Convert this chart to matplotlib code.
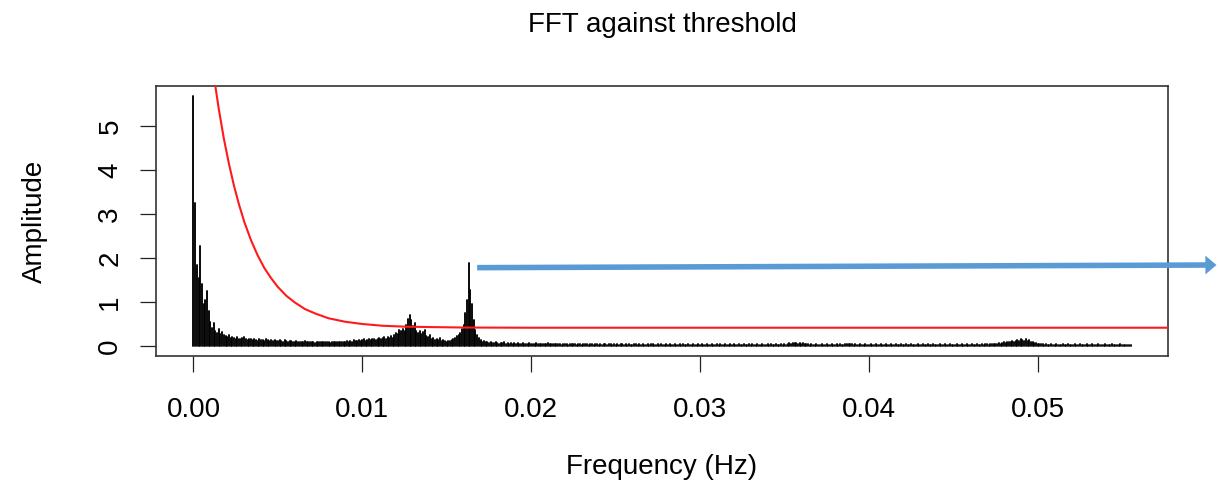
import numpy as np
import matplotlib
matplotlib.use("Agg")
import matplotlib.pyplot as plt

plt.rcParams['font.family'] = ['Liberation Sans', 'DejaVu Sans']

# ---- spectrum data -------------------------------------------------------
# FFT bin spacing (Hz); bin k sits at k * FREQ_STEP
FREQ_STEP = 0.0001

# low-frequency peaks, bins 0-19
amp_low = [5.68, 3.26, 1.85, 1.55, 2.27, 1.40, 0.95, 1.05, 1.25, 0.80,
           0.55, 0.42, 0.52, 0.35, 0.30, 0.38, 0.28, 0.32, 0.25, 0.22]

# decaying shoulder, bins 20-59
amp_shoulder = [0.20, 0.24, 0.18, 0.21, 0.19, 0.16, 0.20, 0.17, 0.15, 0.18,
                0.21, 0.16, 0.14, 0.17, 0.15, 0.13, 0.16, 0.14, 0.12, 0.15,
                0.13, 0.14, 0.12, 0.16, 0.13, 0.11, 0.14, 0.12, 0.13, 0.11,
                0.12, 0.14, 0.11, 0.10, 0.13, 0.12, 0.10, 0.11, 0.12, 0.10]

# noise floor rising towards the first band, bins 60-115
amp_floor = [0.09, 0.11, 0.10, 0.08, 0.10, 0.09, 0.11, 0.08, 0.09, 0.10,
             0.08, 0.09, 0.07, 0.09, 0.10, 0.08, 0.09, 0.08, 0.10, 0.09,
             0.08, 0.07, 0.09, 0.08, 0.10, 0.09, 0.08, 0.09, 0.10, 0.08,
             0.09, 0.11, 0.10, 0.12, 0.10, 0.13, 0.11, 0.12, 0.14, 0.12,
             0.13, 0.15, 0.12, 0.14, 0.16, 0.13, 0.15, 0.17, 0.14, 0.16,
             0.19, 0.15, 0.18, 0.21, 0.17, 0.20]

# first band around 0.013 Hz, bins 116-155
amp_band1 = [0.18, 0.22, 0.19, 0.26, 0.30, 0.28, 0.36, 0.33, 0.38, 0.35,
             0.48, 0.62, 0.70, 0.60, 0.45, 0.52, 0.33, 0.30, 0.33, 0.28,
             0.32, 0.36, 0.23, 0.20, 0.24, 0.17, 0.18, 0.14, 0.16, 0.13,
             0.18, 0.12, 0.14, 0.11, 0.10, 0.12, 0.11, 0.14, 0.16, 0.19]

# dominant peak around 0.0163 Hz, bins 156-175
amp_band2 = [0.22, 0.25, 0.30, 0.38, 0.48, 0.75, 1.05, 1.88, 1.27, 0.95,
             0.59, 0.36, 0.25, 0.18, 0.14, 0.10, 0.11, 0.08, 0.09, 0.07]

# high-frequency tail, bins 176-555
amp_tail = [
    0.08, 0.06, 0.07, 0.09, 0.06, 0.05, 0.07, 0.06, 0.08, 0.05, 0.06, 0.05, 0.07, 0.05, 0.06, 0.04, 0.06, 0.05, 0.04, 0.06,
    0.05, 0.04, 0.05, 0.06, 0.04, 0.05, 0.04, 0.06, 0.05, 0.04, 0.05, 0.04, 0.04, 0.05, 0.06, 0.04, 0.05, 0.04, 0.05, 0.04,
    0.04, 0.05, 0.03, 0.04, 0.05, 0.04, 0.03, 0.04, 0.05, 0.04, 0.04, 0.03, 0.05, 0.04, 0.03, 0.04, 0.04, 0.05, 0.03, 0.04,
    0.04, 0.03, 0.04, 0.05, 0.03, 0.04, 0.03, 0.04, 0.04, 0.03, 0.05, 0.04, 0.03, 0.04, 0.03, 0.04, 0.03, 0.04, 0.04, 0.03,
    0.04, 0.03, 0.04, 0.03, 0.03, 0.04, 0.05, 0.03, 0.04, 0.03, 0.04, 0.03, 0.03, 0.04, 0.03, 0.04, 0.04, 0.03, 0.03, 0.04,
    0.03, 0.04, 0.03, 0.03, 0.04, 0.03, 0.04, 0.03, 0.03, 0.04, 0.03, 0.03, 0.04, 0.03, 0.04, 0.03, 0.03, 0.04, 0.03, 0.03,
    0.04, 0.03, 0.03, 0.04, 0.03, 0.04, 0.03, 0.03, 0.04, 0.03, 0.03, 0.04, 0.03, 0.03, 0.04, 0.03, 0.04, 0.03, 0.03, 0.04,
    0.03, 0.03, 0.04, 0.03, 0.04, 0.03, 0.03, 0.04, 0.03, 0.03, 0.04, 0.03, 0.03, 0.04, 0.03, 0.04, 0.03, 0.03, 0.04, 0.03,
    0.03, 0.04, 0.03, 0.03, 0.04, 0.03, 0.04, 0.03, 0.03, 0.04, 0.03, 0.03, 0.04, 0.03, 0.04, 0.03, 0.05, 0.06, 0.05, 0.07,
    0.06, 0.07, 0.05, 0.06, 0.05, 0.06, 0.04, 0.05, 0.04, 0.03, 0.04, 0.03, 0.03, 0.04, 0.03, 0.03, 0.04, 0.03, 0.03, 0.04,
    0.03, 0.03, 0.04, 0.03, 0.03, 0.04, 0.03, 0.04, 0.03, 0.03, 0.04, 0.04, 0.05, 0.04, 0.04, 0.03, 0.04, 0.03, 0.03, 0.04,
    0.03, 0.03, 0.04, 0.03, 0.03, 0.04, 0.03, 0.03, 0.04, 0.03, 0.03, 0.04, 0.03, 0.03, 0.04, 0.03, 0.03, 0.04, 0.03, 0.03,
    0.04, 0.03, 0.03, 0.04, 0.03, 0.03, 0.04, 0.03, 0.03, 0.04, 0.03, 0.03, 0.03, 0.04, 0.03, 0.03, 0.04, 0.03, 0.03, 0.04,
    0.03, 0.03, 0.04, 0.03, 0.03, 0.03, 0.04, 0.03, 0.03, 0.04, 0.03, 0.03, 0.04, 0.03, 0.03, 0.03, 0.04, 0.03, 0.03, 0.04,
    0.03, 0.03, 0.04, 0.03, 0.03, 0.04, 0.03, 0.03, 0.04, 0.03, 0.03, 0.04, 0.03, 0.04, 0.04, 0.03, 0.04, 0.05, 0.04, 0.05,
    0.05, 0.06, 0.05, 0.07, 0.08, 0.07, 0.09, 0.10, 0.08, 0.11, 0.10, 0.12, 0.14, 0.11, 0.16, 0.13, 0.12, 0.15, 0.11, 0.13,
    0.10, 0.09, 0.07, 0.06, 0.05, 0.05, 0.04, 0.04, 0.03, 0.04, 0.03, 0.03, 0.04, 0.03, 0.03, 0.04, 0.03, 0.03, 0.03, 0.04,
    0.03, 0.03, 0.04, 0.03, 0.03, 0.03, 0.04, 0.03, 0.03, 0.04, 0.03, 0.03, 0.03, 0.04, 0.03, 0.03, 0.04, 0.03, 0.03, 0.03,
    0.04, 0.03, 0.03, 0.03, 0.04, 0.03, 0.03, 0.03, 0.04, 0.03, 0.03, 0.03, 0.03, 0.04, 0.03, 0.03, 0.03, 0.03, 0.03, 0.03,
]

amplitude = np.array(amp_low + amp_shoulder + amp_floor + amp_band1 + amp_band2 + amp_tail)
frequency = np.arange(amplitude.size) * FREQ_STEP

# ---- detection threshold (sampled curve) --------------------------------
threshold_freq = [0.0012, 0.0015, 0.0018, 0.0021, 0.0024, 0.0027, 0.0030, 0.0034,
                  0.0038, 0.0042, 0.0046, 0.0050, 0.0055, 0.0060, 0.0066, 0.0072,
                  0.0080, 0.0090, 0.0100, 0.0112, 0.0125, 0.0140, 0.0160, 0.0200,
                  0.0300, 0.0400, 0.0500, 0.0600]
threshold_amp = [6.15, 5.38, 4.71, 4.14, 3.64, 3.21, 2.83, 2.41,
                 2.06, 1.77, 1.54, 1.34, 1.14, 0.99, 0.84, 0.74,
                 0.63, 0.55, 0.50, 0.46, 0.44, 0.43, 0.42, 0.415,
                 0.415, 0.415, 0.415, 0.415]

x_ticks = [0.00, 0.01, 0.02, 0.03, 0.04, 0.05]
y_ticks = [0, 1, 2, 3, 4, 5]

# ---- figure ---------------------------------------------------------------
W, H = 1218, 487
fig = plt.figure(figsize=(W / 100, H / 100), dpi=100)
ax = fig.add_axes([156 / W, (H - 356) / H, (1168 - 156) / W, (356 - 86) / H])

ax.vlines(frequency, 0, amplitude, colors='black', linewidth=1.35,
          capstyle='round', zorder=2)
ax.plot(threshold_freq, threshold_amp, color='#ff1a1a', linewidth=1.5, zorder=3)

# R-style 4% padding on both axes
xr = frequency.max() - frequency.min()
yr = amplitude.max()
ax.set_xlim(frequency.min() - 0.04 * xr, frequency.max() + 0.04 * xr)
ax.set_ylim(-0.04 * yr, yr * 1.04)

ax.set_xticks(x_ticks)
ax.set_xticklabels([f"{t:.2f}" for t in x_ticks])
ax.set_yticks(y_ticks)
ax.set_yticklabels([str(t) for t in y_ticks])
ax.tick_params(axis='both', direction='out', length=11.5, width=0.9,
               colors='#222222', labelsize=20, labelcolor='black')
ax.tick_params(axis='x', pad=18)
ax.tick_params(axis='y', pad=12, labelrotation=90)
for lbl in ax.get_yticklabels():
    lbl.set_verticalalignment('center')

for sp in ax.spines.values():
    sp.set_color('#333333')
    sp.set_linewidth(1.2)

ax.set_title("FFT against threshold", fontsize=20, y=(356 - 32) / 270, pad=0)
ax.set_xlabel("Frequency (Hz)", fontsize=20)
ax.xaxis.set_label_coords(0.5, (356 - 467) / 270)
ax.xaxis.label.set_verticalalignment('center')
ax.set_ylabel("Amplitude", fontsize=20)
ax.yaxis.set_label_coords((35 - 156) / 1012, 0.5)
ax.yaxis.label.set_verticalalignment('center')

# pointer from the dominant peak out to the right margin
ax.annotate("", xy=(1 - 1.5 / W, 222 / H), xycoords='figure fraction',
            xytext=(0.0168, 1.78), textcoords='data',
            arrowprops=dict(arrowstyle='simple,head_length=0.8,head_width=1.35,tail_width=0.4',
                            mutation_scale=10, color='#5b9bd5', lw=0,
                            shrinkA=0, shrinkB=0),
            zorder=5)

fig.savefig("out.png", dpi=100)
